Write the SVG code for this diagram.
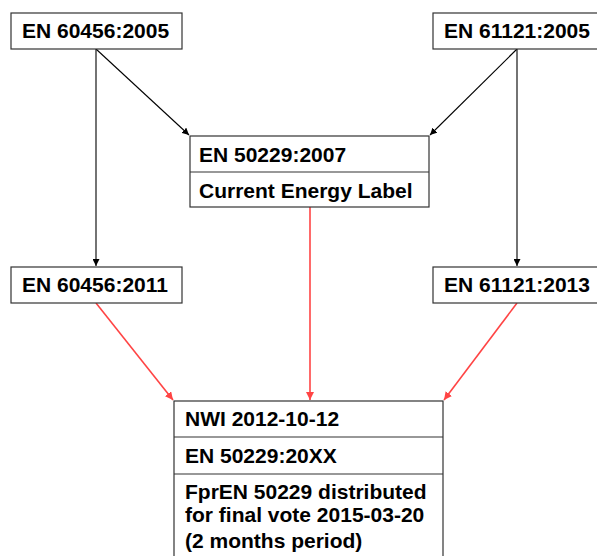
<svg xmlns="http://www.w3.org/2000/svg" width="597" height="556" viewBox="0 0 597 556">
<defs>
<marker id="ab" viewBox="0 0 10 10" refX="10" refY="5" markerWidth="7" markerHeight="7" orient="auto" markerUnits="userSpaceOnUse"><path d="M0,0 L10,5 L0,10 z" fill="#000"/></marker>
<marker id="ar" viewBox="0 0 10 10" refX="10" refY="5" markerWidth="8" markerHeight="8" orient="auto" markerUnits="userSpaceOnUse"><path d="M0,0 L10,5 L0,10 z" fill="#f44"/></marker>
</defs>
<style>
rect{fill:#fff;stroke:#333;stroke-width:1.2}
line.d{stroke:#333;stroke-width:1.2}
text{font-family:"Liberation Sans",Arial,sans-serif;font-weight:bold;font-size:21px;fill:#000}
.k{stroke:#000;stroke-width:1.1;marker-end:url(#ab)}
.r{stroke:#f44;stroke-width:1.6;marker-end:url(#ar)}
</style>
<rect width="597" height="556" fill="#fff" style="stroke:none"/>
<g id="connectors">
<line class="k" x1="96" y1="49" x2="96" y2="266"/>
<line class="k" x1="96" y1="49" x2="189" y2="135"/>
<line class="k" x1="517" y1="49" x2="517" y2="266"/>
<line class="k" x1="517" y1="49" x2="430" y2="135"/>
<line class="r" x1="96" y1="303" x2="173" y2="400"/>
<line class="r" x1="310" y1="207" x2="310" y2="400"/>
<line class="r" x1="517" y1="303" x2="444" y2="400"/>
</g>
<g id="n1"><rect x="11" y="13" width="171" height="36"/><text x="22" y="38">EN 60456:2005</text></g>
<g id="n2"><rect x="433" y="13" width="170" height="36"/><text x="444" y="38">EN 61121:2005</text></g>
<g id="n3"><rect x="190" y="136" width="239" height="71"/><line class="d" x1="190" y1="172" x2="429" y2="172"/><text x="199" y="162">EN 50229:2007</text><text x="199" y="198">Current Energy Label</text></g>
<g id="n4"><rect x="11" y="267" width="171" height="36"/><text x="22" y="292">EN 60456:2011</text></g>
<g id="n5"><rect x="433" y="267" width="170" height="36"/><text x="444" y="292">EN 61121:2013</text></g>
<g id="n6"><rect x="174" y="401" width="269" height="170"/><line class="d" x1="174" y1="437" x2="443" y2="437"/><line class="d" x1="174" y1="474" x2="443" y2="474"/><text x="185" y="426">NWI 2012-10-12</text><text x="185" y="463">EN 50229:20XX</text><text x="185" y="499">FprEN 50229 distributed</text><text x="185" y="522">for final vote 2015-03-20</text><text x="185" y="548">(2 months period)</text></g>
</svg>
